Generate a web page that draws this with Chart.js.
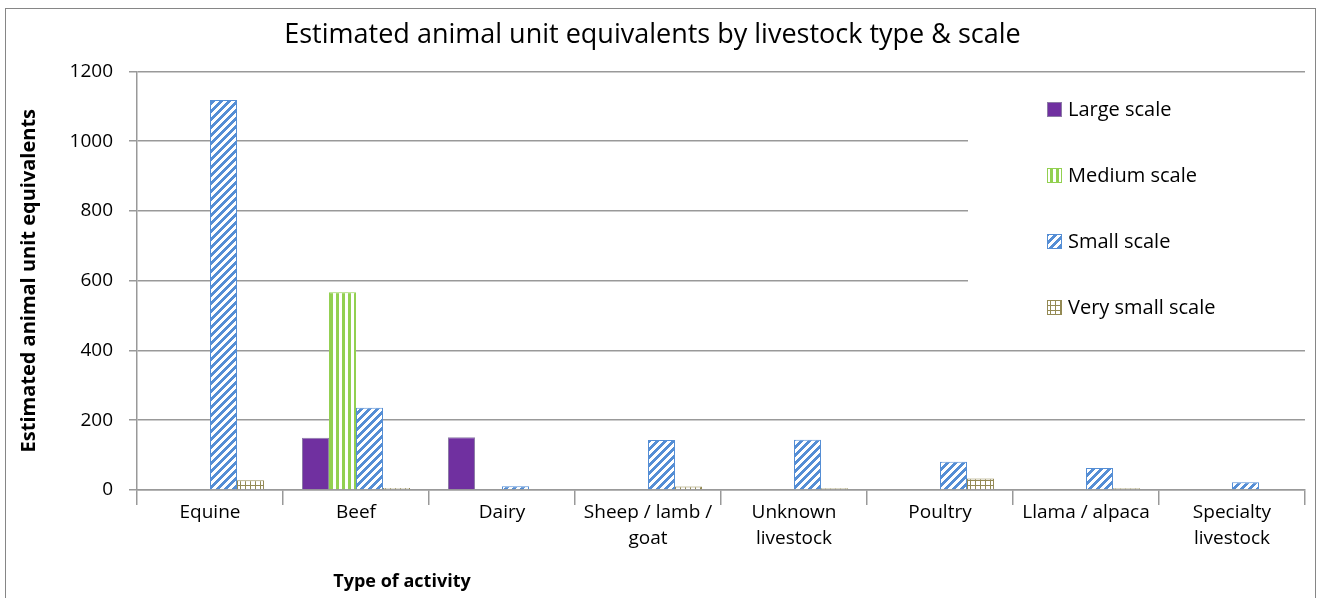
<!DOCTYPE html>
<html><head><meta charset="utf-8">
<script src="https://cdn.jsdelivr.net/npm/chart.js@4.4.1/dist/chart.umd.min.js"></script>
<style>html,body{margin:0;padding:0;background:#fff;overflow:hidden}#wrap{position:relative;width:1317px;height:598px}</style>
</head><body><div id="wrap"><canvas id="c" width="1317" height="598"></canvas></div>
<script>
// ---- data ----
const categories = ['Equine', 'Beef', 'Dairy', ['Sheep / lamb /', 'goat'], ['Unknown', 'livestock'], 'Poultry', 'Llama / alpaca', ['Specialty', 'livestock']];
const seriesNames = ['Large scale', 'Medium scale', 'Small scale', 'Very small scale'];
const largeScale = [null, 150, 151, null, null, null, null, null];
const mediumScale = [null, 567, null, null, null, null, null, null];
const smallScale = [1118, 236, 11, 143, 144, 81, 63, 22];
const verySmallScale = [28, 6, null, 10, 5, 33, 5, null];
const yTicks = [0, 200, 400, 600, 800, 1000, 1200];
const chartTitle = 'Estimated animal unit equivalents by livestock type & scale';
const yTitle = 'Estimated animal unit equivalents';
const xTitle = 'Type of activity';

// ---- patterns ----
function makePattern(size, draw) {
  const c = document.createElement('canvas');
  c.width = size; c.height = size;
  const g = c.getContext('2d');
  draw(g, size);
  return g.createPattern(c, 'repeat');
}
const purple = '#7030A0';
const green = '#92D050';
const blue = '#558ED5';
const tan = '#948A54';
const diagPat = makePattern(8, (g, s) => {
  g.fillStyle = '#fff'; g.fillRect(0, 0, s, s);
  g.fillStyle = blue;
  for (let y = 0; y < s; y++) for (let x = 0; x < s; x++) if (((x + y) % 8) < 4) g.fillRect(x, y, 1, 1);
});
const vertPat = makePattern(6, (g, s) => {
  g.fillStyle = '#fff'; g.fillRect(0, 0, s, s);
  g.fillStyle = green; g.fillRect(0, 0, 3, s);
});
const gridPat = makePattern(5, (g, s) => {
  g.fillStyle = '#fff'; g.fillRect(0, 0, s, s);
  g.fillStyle = tan; g.fillRect(0, 0, s, 1); g.fillRect(0, 0, 1, s);
});

const FONT = '"Open Sans", Lato, sans-serif';

const framePlugin = {
  id: 'frame',
  beforeDraw(chart) {
    const c = chart.ctx;
    c.save();
    c.fillStyle = '#fff';
    c.fillRect(0, 0, chart.width, chart.height);
    c.strokeStyle = '#868686';
    c.lineWidth = 1;
    c.strokeRect(5.5, 8.5, 1310, 620);
    c.restore();
  }
};

const legendPlugin = {
  id: 'customLegend',
  afterDraw(chart) {
    const c = chart.ctx;
    const a = chart.chartArea;
    c.save();
    c.fillStyle = '#fff';
    c.fillRect(968, 84, a.right - 968 + 1, 252);
    c.font = '20px ' + FONT;
    c.textBaseline = 'middle';
    chart.data.datasets.forEach((ds, i) => {
      const yc = 110 + i * 66;
      c.fillStyle = ds.backgroundColor;
      c.fillRect(1047, yc - 8, 15, 15);
      c.strokeStyle = ds.borderColor;
      c.lineWidth = 1;
      c.strokeRect(1047.5, yc - 7.5, 14, 14);
      c.fillStyle = '#000';
      c.fillText(ds.label, 1068, yc);
    });
    c.restore();
  }
};

const xTitlePlugin = {
  id: 'xTitle',
  afterDraw(chart) {
    const c = chart.ctx;
    c.save();
    c.font = 'bold 18px ' + FONT;
    c.textAlign = 'center';
    c.textBaseline = 'middle';
    c.fillStyle = '#000';
    c.fillText(xTitle, chart.chartArea.left + 265, 582);
    c.restore();
  }
};

new Chart(document.getElementById('c'), {
  type: 'bar',
  data: {
    labels: categories,
    datasets: [
      { label: seriesNames[0], data: largeScale, backgroundColor: purple, borderColor: '#8d7ca6', borderWidth: 1 },
      { label: seriesNames[1], data: mediumScale, backgroundColor: vertPat, borderColor: green, borderWidth: 1 },
      { label: seriesNames[2], data: smallScale, backgroundColor: diagPat, borderColor: blue, borderWidth: 1 },
      { label: seriesNames[3], data: verySmallScale, backgroundColor: gridPat, borderColor: tan, borderWidth: 1 }
    ]
  },
  options: {
    responsive: false,
    animation: false,
    devicePixelRatio: 1,
    layout: { padding: { left: 0, right: 12, top: 0, bottom: 0 } },
    datasets: { bar: { categoryPercentage: 0.74, barPercentage: 1.0 } },
    plugins: {
      legend: { display: false },
      tooltip: { enabled: false },
      title: {
        display: true, text: chartTitle, color: '#000',
        font: { family: FONT, size: 27, weight: 'normal', lineHeight: 1.2 },
        padding: { top: 19, bottom: 20 }
      }
    },
    scales: {
      x: {
        offset: true,
        grid: { display: true, drawOnChartArea: false, offset: true, color: '#999', lineWidth: 1.5, tickLength: 15 },
        border: { display: true, color: '#999', width: 1.5 },
        ticks: { color: '#000', font: { family: FONT, size: 19, lineHeight: 1.4 }, padding: -6, maxRotation: 0, autoSkip: false },
        afterFit(s) { s.height = 108; }
      },
      y: {
        min: 0, max: 1200,
        afterBuildTicks(s) { s.ticks = yTicks.map(v => ({ value: v })); },
        grid: { color: '#999', lineWidth: 1.5, tickLength: 8 },
        border: { display: true, color: '#999', width: 1.5 },
        ticks: { color: '#000', font: { family: FONT, size: 19 }, padding: 16, callback: v => String(v) },
        title: { display: true, text: yTitle, color: '#000', font: { family: FONT, size: 20, weight: 'bold', lineHeight: 1.2 }, padding: { top: 17, bottom: 0 } },
        afterFit(s) { s.width = 137; }
      }
    }
  },
  plugins: [framePlugin, legendPlugin, xTitlePlugin]
});
</script>
</body></html>
